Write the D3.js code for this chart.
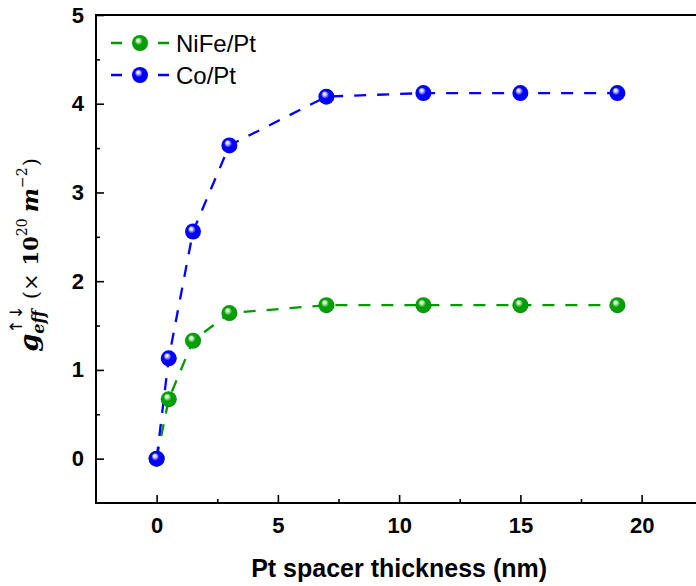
<!DOCTYPE html>
<html>
<head>
<meta charset="utf-8">
<script src="https://cdn.jsdelivr.net/npm/d3@7"></script>
<style>
  body { margin: 0; background: #fff; }
  svg { display: block; }
</style>
</head>
<body>
<div id="chart"></div>
<script>
// data
const thickness = [0, 0.5, 1.5, 3, 7, 11, 15, 19]
const nifePt = [0, 0.67, 1.33, 1.64, 1.73, 1.73, 1.73, 1.73]
const coPt = [0, 1.13, 2.56, 3.53, 4.08, 4.12, 4.12, 4.12]
const seriesNames = ['NiFe/Pt', 'Co/Pt']
const xTicks = [0, 5, 10, 15, 20]
const yTicks = [0, 1, 2, 3, 4, 5]
const xMinor = [2.5, 7.5, 12.5, 17.5]
const yMinor = [0.5, 1.5, 2.5, 3.5, 4.5]

const w_full = 696
const h_full = 586
const margin = {top: 15, left: 96, bottom: 83}
const colors = {line: ['#009900', '#0000ff'], mark: ['#00a000', '#0000ff'], dark: ['#004d00', '#000080'], light: ['#c8f0c8', '#d0d0ff']}

const svg = d3.select('#chart').append('svg')
    .attr('width', w_full)
    .attr('height', h_full)

const x = d3.scaleLinear().domain([-2.5, 22.5]).range([margin.left, margin.left + 25 * 24.25])
const y = d3.scaleLinear().domain([-0.5, 5]).range([h_full - margin.bottom, margin.top])

// sphere gradients
const defs = svg.append('defs')
seriesNames.forEach((s, i) => {
    const g = defs.append('radialGradient')
        .attr('id', 'ball' + i)
        .attr('cx', '0.5').attr('cy', '0.5').attr('r', '0.55')
        .attr('fx', '0.36').attr('fy', '0.3')
    g.append('stop').attr('offset', '0%').attr('stop-color', '#ffffff')
    g.append('stop').attr('offset', '18%').attr('stop-color', colors.light[i])
    g.append('stop').attr('offset', '45%').attr('stop-color', colors.mark[i])
    g.append('stop').attr('offset', '85%').attr('stop-color', colors.mark[i])
    g.append('stop').attr('offset', '100%').attr('stop-color', colors.dark[i])
})

const font = "'Liberation Sans', Arial, sans-serif"

// x axis (inward ticks)
const xAxis = svg.append('g')
    .attr('transform', `translate(0,${y(-0.5)})`)
    .call(d3.axisBottom(x).tickValues(xTicks).tickSize(-8).tickPadding(14).tickFormat(d3.format('d')))
svg.append('g')
    .attr('transform', `translate(0,${y(-0.5)})`)
    .call(d3.axisBottom(x).tickValues(xMinor).tickSize(-4).tickFormat(''))
    .call(g => g.select('.domain').remove())

const yAxis = svg.append('g')
    .attr('transform', `translate(${x(-2.5)},0)`)
    .call(d3.axisLeft(y).tickValues(yTicks).tickSize(-8).tickPadding(12).tickFormat(d3.format('d')))
svg.append('g')
    .attr('transform', `translate(${x(-2.5)},0)`)
    .call(d3.axisLeft(y).tickValues(yMinor).tickSize(-4).tickFormat(''))
    .call(g => g.select('.domain').remove())

svg.selectAll('.tick line').attr('stroke', '#000').attr('stroke-width', 1.6)
svg.selectAll('.tick text')
    .style('font-family', font)
    .style('font-weight', 'bold')
    .style('font-size', '22px')
    .attr('fill', '#000')
xAxis.select('.domain').remove()
yAxis.select('.domain').remove()

// frame
svg.append('rect')
    .attr('x', x(-2.5))
    .attr('y', y(5))
    .attr('width', x(22.5) - x(-2.5))
    .attr('height', y(-0.5) - y(5))
    .attr('fill', 'none')
    .attr('stroke', '#000')
    .attr('stroke-width', 2)

// x title
svg.append('text')
    .text('Pt spacer thickness (nm)')
    .attr('x', (x(-2.5) + x(22.5)) / 2)
    .attr('y', 577)
    .style('text-anchor', 'middle')
    .style('font-family', font)
    .style('font-weight', 'bold')
    .style('font-size', '25px')

// y title, built piece by piece
const serif = "'DejaVu Serif', 'Liberation Serif', serif"
const ylab = svg.append('g').attr('transform', 'translate(38,255) rotate(-90)')
const inner = ylab.append('g')
let cx = 0
function piece(txt, size, opts = {}) {
    const t = inner.append('text')
        .text(txt)
        .attr('x', opts.x != null ? opts.x : cx)
        .attr('y', opts.dy || 0)
        .style('font-family', opts.family || serif)
        .style('font-size', size + 'px')
        .style('font-weight', opts.bold ? 'bold' : 'normal')
        .style('font-style', opts.italic ? 'italic' : 'normal')
    const len = t.node().getComputedTextLength()
    return len
}
cx += piece('g', 26, {bold: true, italic: true})
let subStart = cx
let l1 = piece('eff', 16, {bold: true, italic: true, dy: 6})
let l2 = piece('↑↓', 17, {x: subStart, dy: -16, family: "'DejaVu Sans', sans-serif"})
cx = subStart + Math.max(l1, l2) + 6
cx += piece('(×', 21) + 8
cx += piece('10', 21, {bold: true})
cx += piece('20', 14, {dy: -11}) + 6
cx += piece('m', 23, {bold: true, italic: true})
cx += piece('−2', 14, {dy: -11}) + 1
cx += piece(')', 21)
inner.attr('transform', `translate(${-cx / 2},0)`)

// data lines
const allSeries = [nifePt, coPt]
const line = d3.line()
    .x((d, i) => x(thickness[i]))
    .y(d => y(d))

svg.selectAll('.line')
    .data(allSeries)
    .join('path')
    .attr('class', 'line')
    .attr('fill', 'none')
    .attr('stroke', (d, i) => colors.line[i])
    .attr('stroke-width', 2.3)
    .attr('stroke-dasharray', '12,11')
    .attr('d', line)

allSeries.forEach((vals, i) => {
    svg.append('g').selectAll('circle')
        .data(vals)
        .join('circle')
        .attr('cx', (d, j) => x(thickness[j]))
        .attr('cy', d => y(d))
        .attr('r', 8)
        .attr('fill', `url(#ball${i})`)
})

// legend
const legend = svg.append('g').attr('class', 'legend')
seriesNames.forEach((name, i) => {
    const ly = 43 + i * 32
    legend.append('line')
        .attr('x1', 111).attr('x2', 170)
        .attr('y1', ly).attr('y2', ly)
        .attr('stroke', colors.line[i])
        .attr('stroke-width', 2.3)
        .attr('stroke-dasharray', '11,36')
    legend.append('circle')
        .attr('cx', 140).attr('cy', ly).attr('r', 8)
        .attr('fill', `url(#ball${i})`)
    legend.append('text')
        .text(name)
        .attr('x', 176)
        .attr('y', ly)
        .attr('dy', '0.36em')
        .style('font-family', font)
        .style('font-size', '24px')
})
</script>
</body>
</html>
